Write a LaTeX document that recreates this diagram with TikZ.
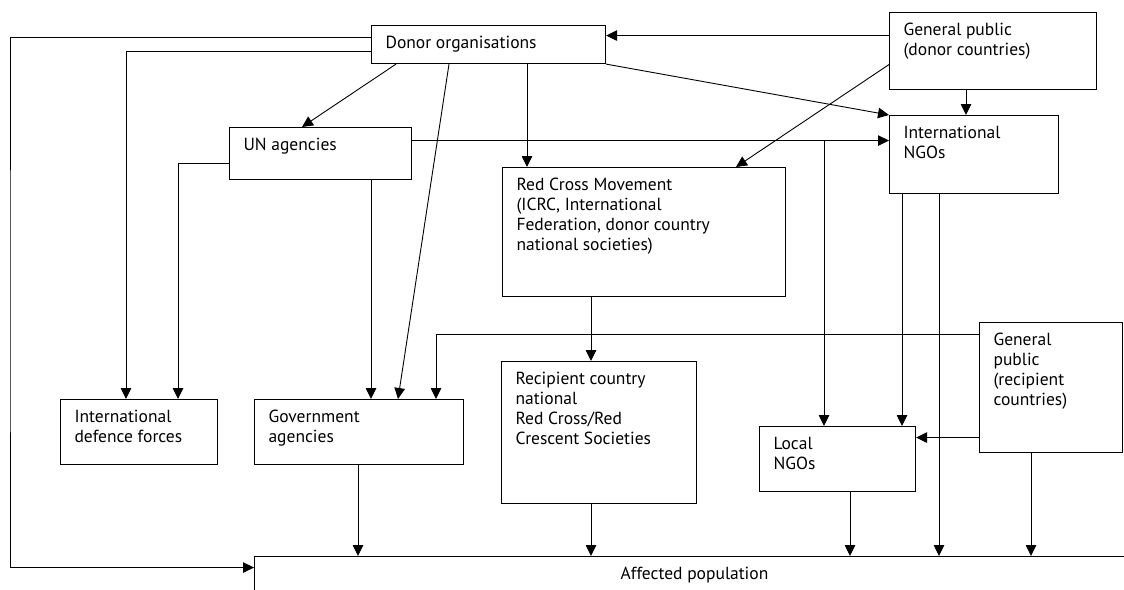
\documentclass[tikz,border=0pt]{standalone}
\usepackage{fontspec}
\setmainfont{PT Sans}
\usetikzlibrary{arrows.meta}
% text block set at the top left of a box: width, height, text
\newcommand{\boxtext}[3]{\parbox[c][#2pt][t]{#1pt}{\raggedright\leftskip=14pt\rule{0pt}{23pt}#3}}
\begin{document}
\begin{tikzpicture}[
  x=1pt, y=-1pt,
  box/.style={draw, line width=1.1pt, anchor=north west, inner sep=0pt},
  link/.style={-{Triangle[length=11pt,width=10.5pt]}, line width=0.9pt},
  font=\fontsize{17.5}{20}\selectfont
]
\useasboundingbox (0,0) rectangle (1124,589);
\clip (0,0) rectangle (1124,589);

\node[box] (don) at (371,25) {\boxtext{234}{38}{Donor organisations}};
\node[box] (gpd) at (889,12) {\boxtext{207}{77}{General public\\(donor countries)}};
\node[box] (ingo) at (889,115) {\boxtext{169}{78}{International\\NGOs}};
\node[box] (un) at (229,127) {\boxtext{182}{52}{UN agencies}};
\node[box] (rcm) at (502,167) {\boxtext{283}{129}{Red Cross Movement\\(ICRC, International\\Federation, donor country\\national societies)}};
\node[box] (idf) at (60,399) {\boxtext{157}{65}{International\\defence forces}};
\node[box] (gov) at (254,399) {\boxtext{209}{65}{Government\\agencies}};
\node[box] (rcs) at (501,361) {\boxtext{195}{142}{Recipient country\\national\\Red Cross/Red\\Crescent Societies}};
\node[box] (lngo) at (759,426) {\boxtext{156}{65}{Local\\NGOs}};
\node[box] (gpr) at (979,322) {\boxtext{143}{130}{General\\public\\(recipient\\countries)}};
\node[box, minimum width=880pt, minimum height=36pt] (aff) at (254,556) {Affected population};
\coordinate (edge) at (10,300);

% Donor organisations
\draw[link] ([yshift=7pt]don.west) -| (edge) |- ([yshift=7pt]aff.west);
\draw[link] ([yshift=-7pt]don.west) -| ([xshift=66pt]idf.north west);
\draw[link] ([xshift=25pt]don.south west) -- ([xshift=73pt]un.north west);
\draw[link] ([xshift=78pt]don.south west) -- ([xshift=144pt]gov.north west);
\draw[link] ([xshift=156pt]don.south west) -- ([xshift=25pt]rcm.north west);
\draw[link] (don.south east) -- (ingo.north west);

% General public (donor countries)
\draw[link] ([yshift=9pt]don.east -| gpd.west) -- ([yshift=9pt]don.east);
\draw[link] ([xshift=77pt]gpd.south west) -- ([xshift=77pt]gpd.south west |- ingo.north);
\draw[link] ([yshift=-13.5pt]gpd.west) -- ([xshift=234pt]rcm.north west);

% UN agencies
\coordinate (unr) at ([yshift=13pt]un.east);
\draw[link] (unr) -- (unr -| ingo.west);
\draw[link] ([xshift=65pt]lngo.north west |- unr) -- ([xshift=65pt]lngo.north west);
\draw[link] ([yshift=-10pt]un.west) -| ([xshift=118pt]idf.north west);
\draw[link] ([xshift=142pt]un.south west) -- ([xshift=117pt]gov.north west);

% Red Cross
\draw[link] ([xshift=89pt]rcm.south west) -- ([xshift=90pt]rcs.north west);

% International NGOs
\draw[link] ([xshift=13pt]ingo.south west) -- ([xshift=13pt]ingo.south west |- lngo.north);
\draw[link] ([xshift=50pt]ingo.south west) -- ([xshift=50pt]ingo.south west |- aff.north);

% General public (recipient countries)
\draw[link] ([yshift=53pt]gpr.west) -| ([xshift=182pt]gov.north west);
\draw[link] ([yshift=-50pt]gpr.west) -- ([yshift=-50pt]gpr.west -| lngo.east);
\draw[link] ([xshift=52pt]gpr.south west) -- ([xshift=52pt]gpr.south west |- aff.north);

% Into the affected population
\draw[link] ([xshift=104pt]gov.south west) -- ([xshift=104pt]gov.south west |- aff.north);
\draw[link] ([xshift=90pt]rcs.south west) -- ([xshift=90pt]rcs.south west |- aff.north);
\draw[link] ([xshift=91pt]lngo.south west) -- ([xshift=91pt]lngo.south west |- aff.north);
\end{tikzpicture}
\end{document}
